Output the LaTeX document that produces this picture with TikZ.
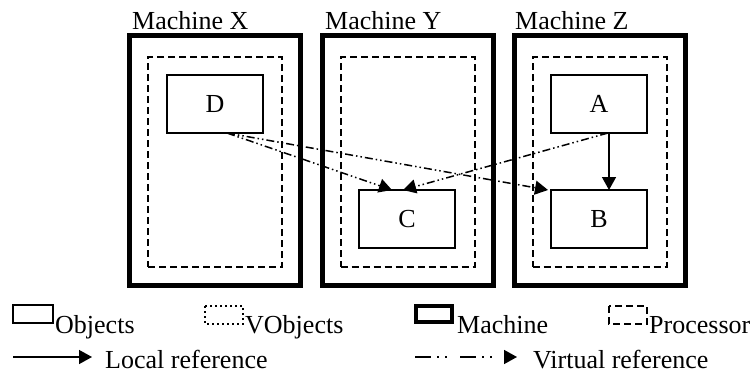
\documentclass[tikz,border=0pt]{standalone}
\usepackage{fontspec}
\setmainfont{Liberation Serif}
\usetikzlibrary{arrows.meta,calc}
\begin{document}
\begin{tikzpicture}[x=1pt,y=-1pt,
  every node/.style={font=\fontsize{26}{30}\selectfont},
  machine/.style={draw,line width=5pt,minimum width=171pt,minimum height=250pt,inner sep=0,outer sep=0},
  proc/.style={draw,line width=2pt,dash pattern=on 7pt off 4pt,minimum width=134pt,minimum height=210pt,inner sep=0,outer sep=0},
  obj/.style={draw,line width=1.5pt,minimum width=96pt,minimum height=58pt,inner sep=0,outer sep=0},
  mlabel/.style={anchor=base west,inner sep=0},
  lref/.style={line width=1.5pt,-{Triangle[length=13pt,width=14pt]}},
  vref/.style={line width=1.5pt,dash pattern=on 8pt off 3pt on 1.5pt off 3pt on 1.5pt off 3pt,-{Triangle[length=13pt,width=14pt]}},
  vleg/.style={line width=1.5pt,dash pattern=on 16pt off 6pt on 2pt off 6pt on 2pt off 13pt,-{Triangle[length=13pt,width=14pt]}},
]
\useasboundingbox (0,0) rectangle (755,380);
% machines
\node[machine] (mx) at (215,160.5) {};
\node[machine] (my) at (408,160.5) {};
\node[machine] (mz) at (600,160.5) {};
\node[mlabel] (lx) at (132,29) {Machine X};
\node[mlabel] (ly) at (325,29) {Machine Y};
\node[mlabel] (lz) at (515,29) {Machine Z};
% processors
\node[proc] (px) at (215,162) {};
\node[proc] (py) at (407.5,162) {};
\node[proc] (pz) at (599.5,162) {};
% objects
\node[obj] (D) at (215,104) {D};
\node[obj] (A) at (599,104) {A};
\node[obj] (C) at (407,219) {C};
\node[obj] (B) at (599,219) {B};
% references
\draw[vref] ($(D.south)+(12,0)$) -- ($(C.north)+(-15,0)$);
\draw[vref] ($(D.south)+(12,0)$) -- ($(B.north west)+(-3,0)$);
\draw[vref] ($(A.south)+(9,0)$) -- ($(C.north)+(-4,0)$);
\draw[lref] ($(A.south)+(10,0)$) -- ($(B.north)+(10,0)$);
% legend
\draw[line width=1.5pt] (13,305) rectangle (53,323);
\node[mlabel] (tobj) at (55,333) {Objects};
\draw[line width=1.5pt,dash pattern=on 2pt off 3pt] (205,306) rectangle (243,324);
\node[mlabel] (tvobj) at (245,333) {VObjects};
\draw[line width=4pt] (416,305.5) rectangle (452,322);
\node[mlabel] (tmach) at (457,333) {Machine};
\draw[line width=2pt,dash pattern=on 7pt off 4pt] (609,306) rectangle (647,324);
\node[mlabel] (tproc) at (649,333) {Processor};
\coordinate (l1) at (13,357);
\coordinate (l2) at (92,357);
\draw[lref] (l1) -- (l2);
\node[mlabel] (tloc) at (105,368) {Local reference};
\coordinate (v1) at (415,357);
\coordinate (v2) at (517,357);
\draw[vleg] (v1) -- (v2);
\node[mlabel] (tvir) at (533,368) {Virtual reference};
\end{tikzpicture}
\end{document}
